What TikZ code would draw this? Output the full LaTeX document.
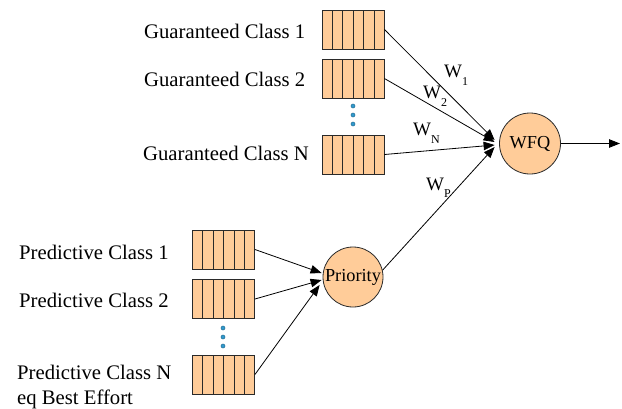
\documentclass[tikz,border=0pt]{standalone}
\usepackage{fontspec}
\setmainfont{Liberation Serif}
\usetikzlibrary{arrows.meta}
\definecolor{qfill}{HTML}{FFCC99}
\definecolor{qline}{HTML}{2A2A2A}
\definecolor{dotc}{HTML}{3399CC}
\begin{document}
\begin{tikzpicture}[x=1pt,y=-1pt,
  queue/.style={draw=qline,line width=0.9pt,fill=qfill,minimum width=62pt,minimum height=39pt,inner sep=0pt,
    path picture={\foreach \i in {1,...,5}{\draw[qline,line width=0.9pt]
      ([xshift=\i*10.4pt]path picture bounding box.south west) --
      ([xshift=\i*10.4pt]path picture bounding box.north west);}}},
  sched/.style={circle,draw=qline,line width=0.8pt,fill=qfill,inner sep=0pt,font=\fontsize{18.3}{20}\selectfont},
  lab/.style={anchor=base west,inner sep=0pt,font=\fontsize{20.7}{25}\selectfont},
  wlab/.style={anchor=base west,inner sep=0pt,font=\fontsize{19}{20}\selectfont},
  arr/.style={line width=0.8pt,-{Triangle[length=11pt,width=8.5pt]}},
  vdot/.style={fill=dotc,draw=dotc!60!black,line width=0.3pt}
]
\useasboundingbox (0,0) rectangle (622,408);
% guaranteed queues
\node[queue] (g1) at (353,29.5) {};
\node[queue] (g2) at (353,78.5) {};
\node[queue] (gn) at (353,154.5) {};
% predictive queues
\node[queue] (p1) at (223.5,249.5) {};
\node[queue] (p2) at (223.5,299) {};
\node[queue] (pn) at (223.5,374.5) {};
% dots
\foreach \y in {106,115,124} \filldraw[vdot] (353,\y) circle (2.1pt);
\foreach \y in {328,337,346} \filldraw[vdot] (223,\y) circle (2.1pt);
% schedulers
\node[sched,minimum size=61pt] (wfq) at (530,143.5) {WFQ};
\node[sched,minimum size=60pt] (pri) at (353,277) {Priority};
% labels
\node[lab] (lg1) at (144,38) {Guaranteed Class 1};
\node[lab] (lg2) at (144,86) {Guaranteed Class 2};
\node[lab] (lgn) at (143,160) {Guaranteed Class N};
\node[lab] (lp1) at (19,259) {Predictive Class 1};
\node[lab] (lp2) at (19,307) {Predictive Class 2};
\node[lab,align=left] (lpn) at (17,404) {Predictive Class N\\eq Best Effort};
% weights
\node[wlab] (w1) at (444,77) {W\raisebox{-8pt}{\fontsize{12}{12}\selectfont 1}};
\node[wlab] (w2) at (423,98) {W\raisebox{-8pt}{\fontsize{12}{12}\selectfont 2}};
\node[wlab] (wn) at (413,135) {W\raisebox{-8pt}{\fontsize{12}{12}\selectfont N}};
\node[wlab] (wp) at (426,190) {W\raisebox{-7pt}{\fontsize{12}{12}\selectfont P}};
% connectors to WFQ
\draw[arr] (g1.east) -- ([xshift=-4.5pt,yshift=3.5pt]wfq.west);
\draw[arr] (g2.east) -- ([xshift=-4.5pt,yshift=1.5pt]wfq.west);
\draw[arr] (gn.east) -- ([xshift=-4.5pt,yshift=-1.5pt]wfq.west);
\draw[arr] (pri.13) -- ([xshift=-4.5pt,yshift=-3.5pt]wfq.west);
% connectors to Priority
\draw[arr] (p1.east) -- ([xshift=-1pt,yshift=4pt]pri.west);
\draw[arr] (p2.east) -- ([xshift=-1pt,yshift=-3pt]pri.west);
\draw[arr] (pn.east) -- ([xshift=-3pt,yshift=-8pt]pri.west);
% output
\coordinate (out) at (620,143.5);
\draw[arr] (wfq.east) -- (out);
\end{tikzpicture}
\end{document}
